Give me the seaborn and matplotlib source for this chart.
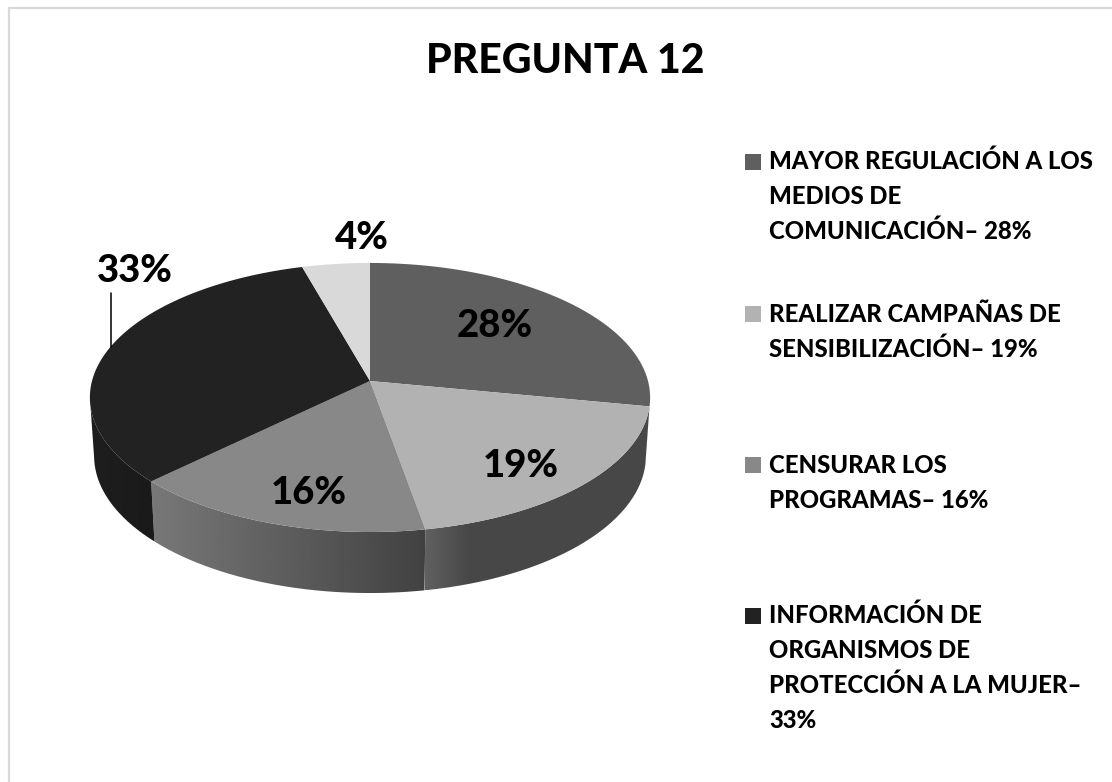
import numpy as np
import matplotlib
matplotlib.use('Agg')
import matplotlib.pyplot as plt
from matplotlib.patches import Rectangle
from matplotlib.path import Path
import seaborn as sns

# data
title = 'PREGUNTA 12'
values = [28, 19.2, 15.6, 32.8, 4.4]
legend_names = [
    ['MAYOR REGULACIÓN A LOS', 'MEDIOS DE', 'COMUNICACIÓN'],
    ['REALIZAR CAMPAÑAS DE', 'SENSIBILIZACIÓN'],
    ['CENSURAR LOS', 'PROGRAMAS'],
    ['INFORMACIÓN DE', 'ORGANISMOS DE', 'PROTECCIÓN A LA MUJER'],
]
colors = sns.color_palette(['#5f5f5f', '#b2b2b2', '#888888', '#222222', '#d9d9d9'])

sns.set_theme(style='white')
plt.rcParams['font.family'] = ['Lato', 'DejaVu Sans']

# pie geometry, in pixels of the picture
cx, cy = 370, 381
rx, ry, k = 278, 132.5, 0.1226
depth, bottom_scale = 58, 0.985

# grey stops (x, level) along the side of each slice
wall_stops = [
    [(0, 0x47), (1112, 0x47)],
    [(425, 0x60), (470, 0x47), (650, 0x47)],
    [(152, 0x78), (424, 0x42)],
    [(90, 0x1e), (152, 0x1a)],
]


def rim(angles):
    # angle in degrees clockwise from the top, seen in perspective
    a = np.radians(angles)
    u, v = np.sin(a), np.cos(a)
    d = 1 + k * v
    return cx + rx * u / d, cy - ry * v / d


def rim_bottom(angles):
    x, y = rim(angles)
    return cx + (x - cx) * bottom_scale, cy + depth + (y - cy) * 1.02


fig = plt.figure(figsize=(11.12, 7.82), dpi=100)
ax = fig.add_axes([0, 0, 1, 1])

edges = np.cumsum([0] + values) * 3.6

# side walls first, they stop where the outline is tangent
for i in range(4):
    a0 = max(edges[i], 97)
    a1 = min(edges[i + 1], 263)
    arc = np.linspace(a0, a1, 120)
    xt, yt = rim(arc)
    xb, yb = rim_bottom(arc)
    xs = np.r_[xt, xb[::-1]]
    ys = np.r_[yt, yb[::-1]]
    x0, x1 = xs.min(), xs.max()
    stops = np.array(wall_stops[i], dtype=float)
    grey = np.interp(np.linspace(x0, x1, 300), stops[:, 0], stops[:, 1]) / 255
    img = ax.imshow(grey[None, :], cmap='gray', vmin=0, vmax=1, aspect='auto',
                    extent=(x0, x1, ys.max(), ys.min()), zorder=1, interpolation='bilinear')
    img.set_clip_path(Path(np.c_[xs, ys]), ax.transData)

# top of the pie
for i, v in enumerate(values):
    arc = np.linspace(edges[i], edges[i + 1], 120)
    xt, yt = rim(arc)
    ax.fill(np.r_[cx, xt], np.r_[cy, yt], color=colors[i], lw=0, zorder=2)

# percent labels
label_pos = [(495, 326), (521, 466), (309, 493), (135, 271), (362, 238)]
for v, (x, y) in zip(values, label_pos):
    ax.text(x, y, f'{v:.0f}%', ha='center', va='center', fontsize=27.5, fontweight='black',
            color='black', zorder=4)
ax.plot([110.7, 110.7], [293, 347], color='black', lw=1.1, zorder=3)

ax.text(565, 61, title, ha='center', va='center', fontsize=29.5, fontweight='black', color='black')

# legend, the gaps between entries are uneven so it is laid out by hand
baselines = [169, 322, 473, 623]
square_tops = [154, 306, 457, 608]
line_gap = 35
for i, names in enumerate(legend_names):
    ax.add_patch(Rectangle((745, square_tops[i]), 16, 16, color=colors[i], lw=0))
    lines = list(names)
    # the last entry wraps its number onto a line of its own
    if i == 3:
        lines[-1] = lines[-1] + '–'
        lines.append(f'{values[i]:.0f}%')
    else:
        lines[-1] = f'{lines[-1]}– {values[i]:.0f}%'
    for j, line in enumerate(lines):
        ax.text(769, baselines[i] + j * line_gap, line, ha='left', va='baseline', fontsize=17.2,
                fontweight='black', color='black')

# chart area border, only top and left are in the picture
ax.plot([9, 9, 1112], [782, 8, 8], color='#d9d9d9', lw=1.6, zorder=0)

ax.set_xlim(0, 1112)
ax.set_ylim(782, 0)
ax.axis('off')

plt.savefig('out.png', dpi=100)
